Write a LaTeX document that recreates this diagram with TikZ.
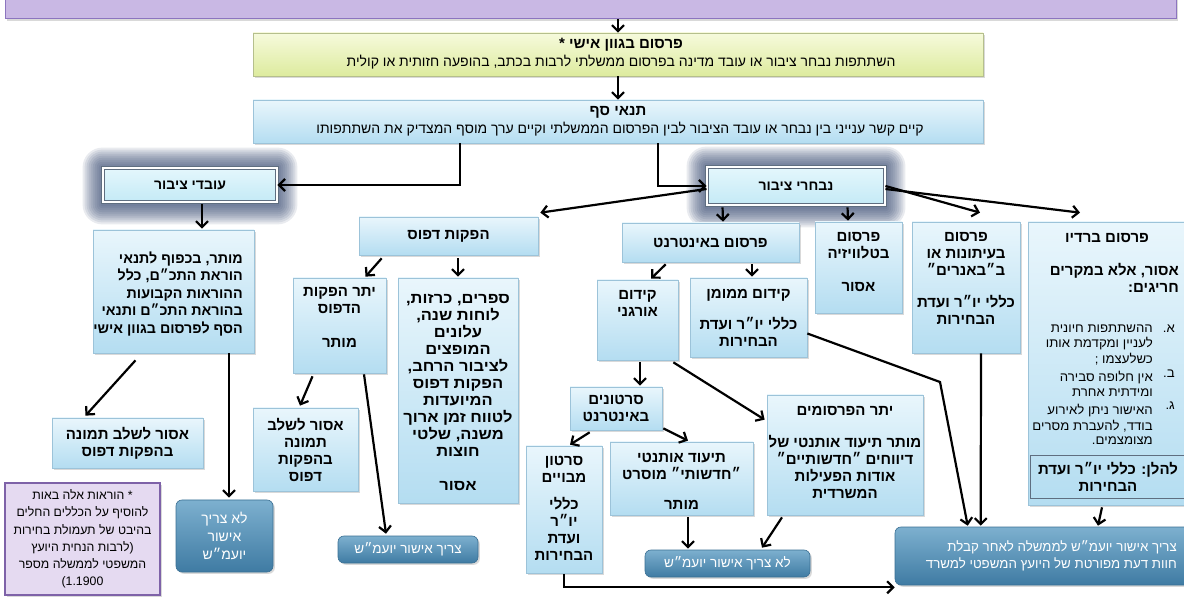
\documentclass[tikz,border=0pt]{standalone}
\usepackage{fontspec}
\setmainfont[Script=Hebrew]{Liberation Sans}
\newfontfamily\hebwide[Script=Hebrew,FakeStretch=1.04]{Liberation Sans}
\newfontfamily\hebwb[Script=Hebrew,FakeStretch=1.1]{Liberation Sans}
\TeXXeTstate=1
\usetikzlibrary{arrows.meta,calc,shadows}
\newcommand\heb[1]{\beginR#1\endR}
\newcommand\fbd{\bfseries\fontsize{15}{17}\selectfont}
\newcommand\fcat{\bfseries\fontsize{14}{17}\selectfont}
\newcommand\ftit{\bfseries\fontsize{15}{17}\selectfont}
\newcommand\fsub{\fontsize{14}{15}\selectfont}
\newcommand\fdk{\fontsize{13.5}{17.5}\selectfont}
\newcommand\ffoot{\fontsize{12.3}{17.3}\selectfont}
\newcommand\fsml{\hebwide\fontsize{12.7}{14.2}\selectfont}
\definecolor{bxtop}{HTML}{E9F6FC}
\definecolor{bxbot}{HTML}{B4DDF1}
\definecolor{bxline}{HTML}{9CC3D9}
\definecolor{ytop}{HTML}{F6FADC}
\definecolor{ybot}{HTML}{DDEB9E}
\definecolor{yline}{HTML}{B5BF8C}
\definecolor{dtop}{HTML}{7DB0CF}
\definecolor{dbot}{HTML}{3F7BA3}
\definecolor{dline}{HTML}{3A6F93}
\definecolor{gtop}{HTML}{E4F7FC}
\definecolor{gbot}{HTML}{C4EAF6}
\definecolor{gline}{HTML}{5F6E80}
\definecolor{footfill}{HTML}{E5DAF1}
\definecolor{footline}{HTML}{7E62A8}
\definecolor{barfill}{HTML}{C9B8E4}
\definecolor{barline}{HTML}{8C75BF}
\definecolor{glowc}{HTML}{34476F}
\pgfdeclarelayer{bg}
\pgfsetlayers{bg,main}
\begin{document}
\begin{tikzpicture}[x=1pt,y=-1pt,
  shd/.style={drop shadow={shadow xshift=1.8pt,shadow yshift=-1.8pt,opacity=0.3}},
  box/.style={draw=bxline,line width=0.7pt,top color=bxtop,bottom color=bxbot,inner sep=0pt,align=center,font=\fbd,shd},
  dbox/.style={rounded corners=6pt,draw=dline,line width=0.6pt,top color=dtop,bottom color=dbot,text=white,inner sep=0pt,align=center,font=\fdk,shd},
  gbox/.style={draw=gline,line width=0.9pt,double=white,double distance=1.4pt,top color=gtop,bottom color=gbot,inner sep=0pt,font=\fcat},
  tx/.style={inner sep=0pt,align=center,font=\fbd},
  arr/.style={line width=2.2pt,-{Straight Barb[length=6pt,width=12pt]}},
]
\useasboundingbox (0,0) rectangle (1184,601);

% top bar
\node[draw=barline,line width=1pt,fill=barfill,minimum width=1171pt,minimum height=40pt,inner sep=0pt,shd] (topbar) at (590.5,-1) {};

% yellow box
\node[box,top color=ytop,bottom color=ybot,draw=yline,minimum width=730pt,minimum height=43pt] (ylw) at (618,54.5) {};
\node[tx,font=\ftit] (ylwT) at (621,45) {\heb{פרסום בגוון אישי *}};
\node[tx,font=\fsub] (ylwS) at (621,62) {\heb{השתתפות נבחר ציבור או עובד מדינה בפרסום ממשלתי לרבות בכתב, בהופעה חזותית או קולית}};

% threshold box
\node[box,minimum width=730pt,minimum height=43pt] (tanai) at (618,121.5) {};
\node[tx,font=\ftit] (tanaiT) at (618,112) {\heb{תנאי סף}};
\node[tx,font=\fsub] (tanaiS) at (620,129) {\heb{קיים קשר ענייני בין נבחר או עובד הציבור לבין הפרסום הממשלתי וקיים ערך מוסף המצדיק את השתתפותו}};

% two main categories
\node[gbox,minimum width=174pt,minimum height=34pt] (ovdim) at (190,185) {\heb{עובדי ציבור}};
\node[gbox,minimum width=178pt,minimum height=38pt] (nivcharim) at (796,186) {\heb{נבחרי ציבור}};

% public servants branch
\node[box,minimum width=161pt,minimum height=123pt] (mutar) at (173.5,291.5) {};
\node[tx,align=right,anchor=east,font=\bfseries\fontsize{14.3}{17.5}\selectfont] (mutarT) at (243,294) {\heb{מותר, בכפוף לתנאי}\\\heb{הוראת התכ״ם, כלל}\\\heb{ההוראות הקבועות}\\\heb{בהוראת התכ״ם ותנאי}\\\heb{הסף לפרסום בגוון אישי}};
\node[box,minimum width=151pt,minimum height=50pt] (asur1) at (127.5,443) {\heb{אסור לשלב תמונה}\\\heb{בהפקות דפוס}};
\node[dbox,minimum width=97pt,minimum height=72pt,font=\fontsize{14}{18}\selectfont] (la1) at (224.5,536) {\heb{לא צריך}\\\heb{אישור}\\\heb{יועמ״ש}};
\node[draw=footline,line width=1.2pt,fill=footfill,minimum width=155pt,minimum height=112pt,inner sep=0pt,align=center,font=\ffoot,shd] (foot) at (82.5,539) {\heb{* הוראות אלה באות}\\\heb{להוסיף על הכללים החלים}\\\heb{בהיבט של תעמולת בחירות}\\\heb{(לרבות הנחית היועץ}\\\heb{המשפטי לממשלה מספר}\\\heb{1.1900)}};

% print productions
\node[box,minimum width=179pt,minimum height=38pt] (hafakot) at (448.5,236) {\heb{הפקות דפוס}};
\node[box,minimum width=93pt,minimum height=95pt] (yeterhaf) at (339.5,325.5) {};
\node[tx] (yeterhafT) at (339.5,317) {\heb{יתר הפקות}\\\heb{הדפוס}\\[17pt]\heb{מותר}};
\node[box,minimum width=120pt,minimum height=225pt] (sfarim) at (458,390.5) {};
\node[tx,font=\hebwb\bfseries\fontsize{15}{17}\selectfont] (sfarimT) at (458,392) {\heb{ספרים, כרזות,}\\\heb{לוחות שנה,}\\\heb{עלונים}\\\heb{המופצים}\\\heb{לציבור הרחב,}\\\heb{הפקות דפוס}\\\heb{המיועדות}\\\heb{לטווח זמן ארוך}\\\heb{משנה, שלטי}\\\heb{חוצות}\\[17pt]\heb{אסור}};
\node[box,minimum width=105pt,minimum height=83pt] (asur2) at (305.5,449.5) {\heb{אסור לשלב}\\\heb{תמונה}\\\heb{בהפקות}\\\heb{דפוס}};
\node[dbox,minimum width=140pt,minimum height=27pt] (tzarich1) at (408,549.5) {\heb{צריך אישור יועמ״ש}};

% internet
\node[box,minimum width=177pt,minimum height=39pt] (internet) at (710.5,242.5) {\heb{פרסום באינטרנט}};
\node[box,minimum width=81pt,minimum height=80pt] (organic) at (637.5,320) {};
\node[tx] (organicT) at (637.5,303.5) {\heb{קידום}\\\heb{אורגני}};
\node[box,minimum width=117pt,minimum height=79pt] (mimun) at (748.5,317.5) {};
\node[tx] (mimunT) at (748.5,318) {\heb{קידום ממומן}\\[14pt]\heb{כללי יו״ר ועדת}\\\heb{הבחירות}};
\node[box,minimum width=92pt,minimum height=43pt] (sartonim) at (616,408.5) {\heb{סרטונים}\\\heb{באינטרנט}};
\node[box,minimum width=156pt,minimum height=120pt] (yeterpir) at (845,455) {};
\node[tx] (yeterpirT) at (845,452.5) {\heb{יתר הפרסומים}\\[15pt]\heb{מותר תיעוד אותנטי של}\\\heb{דיווחים ״חדשותיים״}\\\heb{אודות הפעילות}\\\heb{המשרדית}};
\node[box,minimum width=76pt,minimum height=127pt] (mevuyim) at (564,509.5) {};
\node[tx] (mevuyimT) at (564,508.5) {\heb{סרטון}\\\heb{מבויים}\\[10pt]\heb{כללי}\\\heb{יו״ר}\\\heb{ועדת}\\\heb{הבחירות}};
\node[box,minimum width=143pt,minimum height=73pt] (tiud) at (681.5,478.5) {};
\node[tx] (tiudT) at (681.5,481.5) {\heb{תיעוד אותנטי}\\\heb{״חדשותי״ מוסרט}\\[13pt]\heb{מותר}};
\node[dbox,minimum width=165pt,minimum height=27pt] (la2) at (727.5,563.5) {\heb{לא צריך אישור יועמ״ש}};

% TV, newspapers, radio
\node[box,minimum width=87pt,minimum height=91pt] (tv) at (858.5,267.5) {};
\node[tx] (tvT) at (858.5,262) {\heb{פרסום}\\\heb{בטלוויזיה}\\[16pt]\heb{אסור}};
\node[box,minimum width=108pt,minimum height=131pt] (news) at (966,287.5) {};
\node[tx] (newsT) at (966,278.5) {\heb{פרסום}\\\heb{בעיתונות או}\\\heb{ב״באנרים״}\\[15pt]\heb{כללי יו״ר ועדת}\\\heb{הבחירות}};
\node[box,minimum width=160pt,minimum height=283pt] (radio) at (1108,363.5) {};
\node[tx] (radioT) at (1107,238) {\heb{פרסום ברדיו}};
\node[tx,align=right,anchor=east] (radioS) at (1179,277.5) {\heb{אסור, אלא במקרים}\\\heb{חריגים:}};
\node[inner sep=0pt,align=right,anchor=north east,font=\fsml] (radioM) at (1175,322) {%
\strut\heb{א.}\\\strut\\\strut\\[3pt]\strut\heb{ב.}\\\strut\\[3pt]\strut\heb{ג.}\\\strut\\\strut};
\node[inner sep=0pt,align=right,anchor=north east,font=\fsml] (radioL) at (1153,322) {%
\strut\heb{ההשתתפות חיונית}\\
\strut\heb{לעניין ומקדמת אותו}\\
\strut\heb{כשלעצמו ;}\\[3pt]
\strut\heb{אין חלופה סבירה}\\
\strut\heb{ומידתית אחרת}\\[3pt]
\strut\heb{האישור ניתן לאירוע}\\
\strut\heb{בודד, להעברת מסרים}\\
\strut\heb{מצומצמים.}};
\node[draw=gline,line width=0.9pt,minimum width=156pt,minimum height=43pt,inner sep=0pt,align=center,font=\fbd] (radioin) at (1108,476.5) {\heb{להלן: כללי יו״ר ועדת}\\\heb{הבחירות}};

\node[dbox,minimum width=324pt,minimum height=58pt] (big) at (1057,556) {};
\node[inner sep=0pt,align=right,anchor=east,font=\fontsize{13.3}{17}\selectfont,text=white] (bigT) at (1177,556) {\heb{צריך אישור יועמ״ש לממשלה לאחר קבלת}\\\heb{חוות דעת מפורטת של היועץ המשפטי למשרד}};

% glow around the two category boxes
\begin{pgfonlayer}{bg}
\foreach \n in {ovdim,nivcharim}{
  \foreach \i in {1,...,10}{
    \fill[glowc,opacity=0.11,rounded corners={\i*2pt}] ($(\n.south west)+(-2*\i,2*\i+2)$) rectangle ($(\n.north east)+(2*\i,-2*\i)$);
  }
}
\end{pgfonlayer}

% connectors
\draw[arr] (topbar.south -| ylw.north) -- (ylw.north);
\draw[arr] (ylw.south) -- (tanai.north);
\draw[arr] ($(tanai.south west)+(207,0)$) |- (ovdim.east);
\draw[arr] ($(tanai.south west)+(405,0)$) |- (nivcharim.west);
\draw[arr] ($(ovdim.south)+(12,2)$) -- ($(mutar.north)+(28.5,-1)$);
\draw[arr] ($(mutar.south)+(-38,7)$) -- ($(asur1.north)+(-42,-2)$);
\draw[arr] ($(mutar.south)+(55.5,0)$) -- ($(la1.north)+(4.5,-2)$);
\draw[arr] ($(nivcharim.west)+(0,3)$) -- ($(hafakot.north east)+(2,-4)$);
\draw[arr] ($(nivcharim.south west)+(16,2)$) -- ($(internet.north)+(12.5,-1)$);
\draw[arr] ($(nivcharim.south west)+(141,2)$) -- ($(tv.north)+(-10.5,-1)$);
\draw[arr] (nivcharim.east) -- ($(news.north)+(14,-9)$);
\draw[arr] ($(nivcharim.east)+(0,3)$) -- ($(radio.north)+(-28,-9)$);
\draw[arr] ($(hafakot.south west)+(23,3)$) -- ($(yeterhaf.north)+(26,-1)$);
\draw[arr] ($(hafakot.south)+(9.5,3)$) -- ($(sfarim.north)+(0,-1)$);
\draw[arr] ($(yeterhaf.south)+(-27,3)$) -- ($(asur2.north)+(-5.5,-2)$);
\draw[arr] ($(yeterhaf.south)+(24.5,1)$) -- ($(tzarich1.north)+(-22,-2)$);
\draw[arr] ($(internet.south west)+(44,2)$) -- ($(organic.north)+(13.5,-1)$);
\draw[arr] ($(internet.south)+(41.5,2)$) -- ($(mimun.north)+(3.5,-1)$);
\draw[arr] ($(organic.south)+(2.5,2)$) -- ($(sartonim.north)+(24,-1)$);
\draw[arr] ($(organic.south east)+(-5,2)$) -- ($(yeterpir.north west)+(-2,25)$);
\coordinate (k1) at (940,382);
\draw[arr] ($(mimun.east)+(0,16)$) -- (k1) -- ($(big.north west)+(73,-1)$);
\draw[arr] ($(news.south)+(15,0)$) -- ($(big.north west)+(86,-1)$);
\draw[arr] ($(radio.south)+(-6,2)$) -- ($(big.north)+(41,-1)$);
\draw[arr] ($(sartonim.south west)+(20,2)$) -- ($(mevuyim.north)+(6,-1)$);
\draw[arr] ($(sartonim.south east)+(1,-2)$) -- ($(tiud.north)+(6.5,-1)$);
\draw[arr] ($(tiud.south)+(6.5,2)$) -- ($(la2.north)+(-39.5,-1)$);
\draw[arr] ($(yeterpir.south)+(-63,2)$) -- ($(la2.north)+(34.5,-2)$);
\draw[arr] ($(mevuyim.south)+(0,1)$) |- ($(big.south west)+(0,2)$);
\end{tikzpicture}
\end{document}
